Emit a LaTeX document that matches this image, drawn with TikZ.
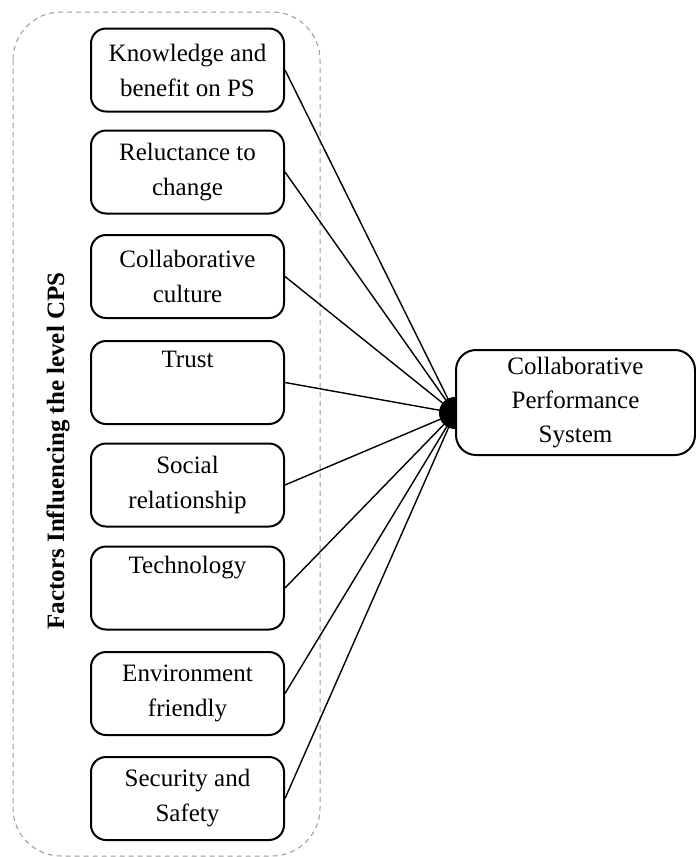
\documentclass[tikz,border=0pt]{standalone}
\usepackage{fontspec}
\setmainfont{Liberation Serif}
\begin{document}
\begin{tikzpicture}[x=0.5pt,y=-0.5pt,
  factor/.style={draw, line width=1pt, rounded corners=7.5pt, minimum width=96.5pt, minimum height=41.5pt,
    align=center, inner sep=2pt, font=\fontsize{12.5}{17.5}\selectfont},
  target/.style={draw, line width=1pt, rounded corners=10pt, minimum width=119.5pt, minimum height=52.5pt,
    align=center, inner sep=2pt, font=\fontsize{12.5}{17}\selectfont},
  link/.style={line width=0.7pt},
  frame/.style={draw=gray!80, dashed, dash pattern=on 2.5pt off 2pt, line width=0.5pt, rounded corners=24pt}]
\useasboundingbox (0,0) rectangle (696,857);
\draw[frame] (13,12) rectangle (320,856);
\node[rotate=90, font=\fontsize{12.5}{15}\selectfont\bfseries] (lab) at (58,451) {Factors Influencing the level CPS};
\node[factor] (f1) at (187.5,70) {Knowledge and\\benefit on PS};
\node[factor] (f2) at (187.5,172) {Reluctance to\\change};
\node[factor] (f3) at (187.5,276.5) {Collaborative\\culture};
\node[factor] (f4) at (187.5,382.5) {Trust\\\strut};
\node[factor] (f5) at (187.5,485) {Social\\relationship};
\node[factor] (f6) at (187.5,588) {Technology\\\strut};
\node[factor] (f7) at (187.5,693.5) {Environment\\friendly};
\node[factor] (f8) at (187.5,798.5) {Security and\\Safety};
\node[target] (cps) at (575.5,402.5) {Collaborative\\Performance\\System};
\coordinate (hub) at ([yshift=-5.25pt]cps.west);
\foreach \i in {1,...,8} {\draw[link] (f\i.east) -- (hub);}
\fill (hub) ++(0,-16) arc (90:270:8pt) -- cycle;
\end{tikzpicture}
\end{document}
